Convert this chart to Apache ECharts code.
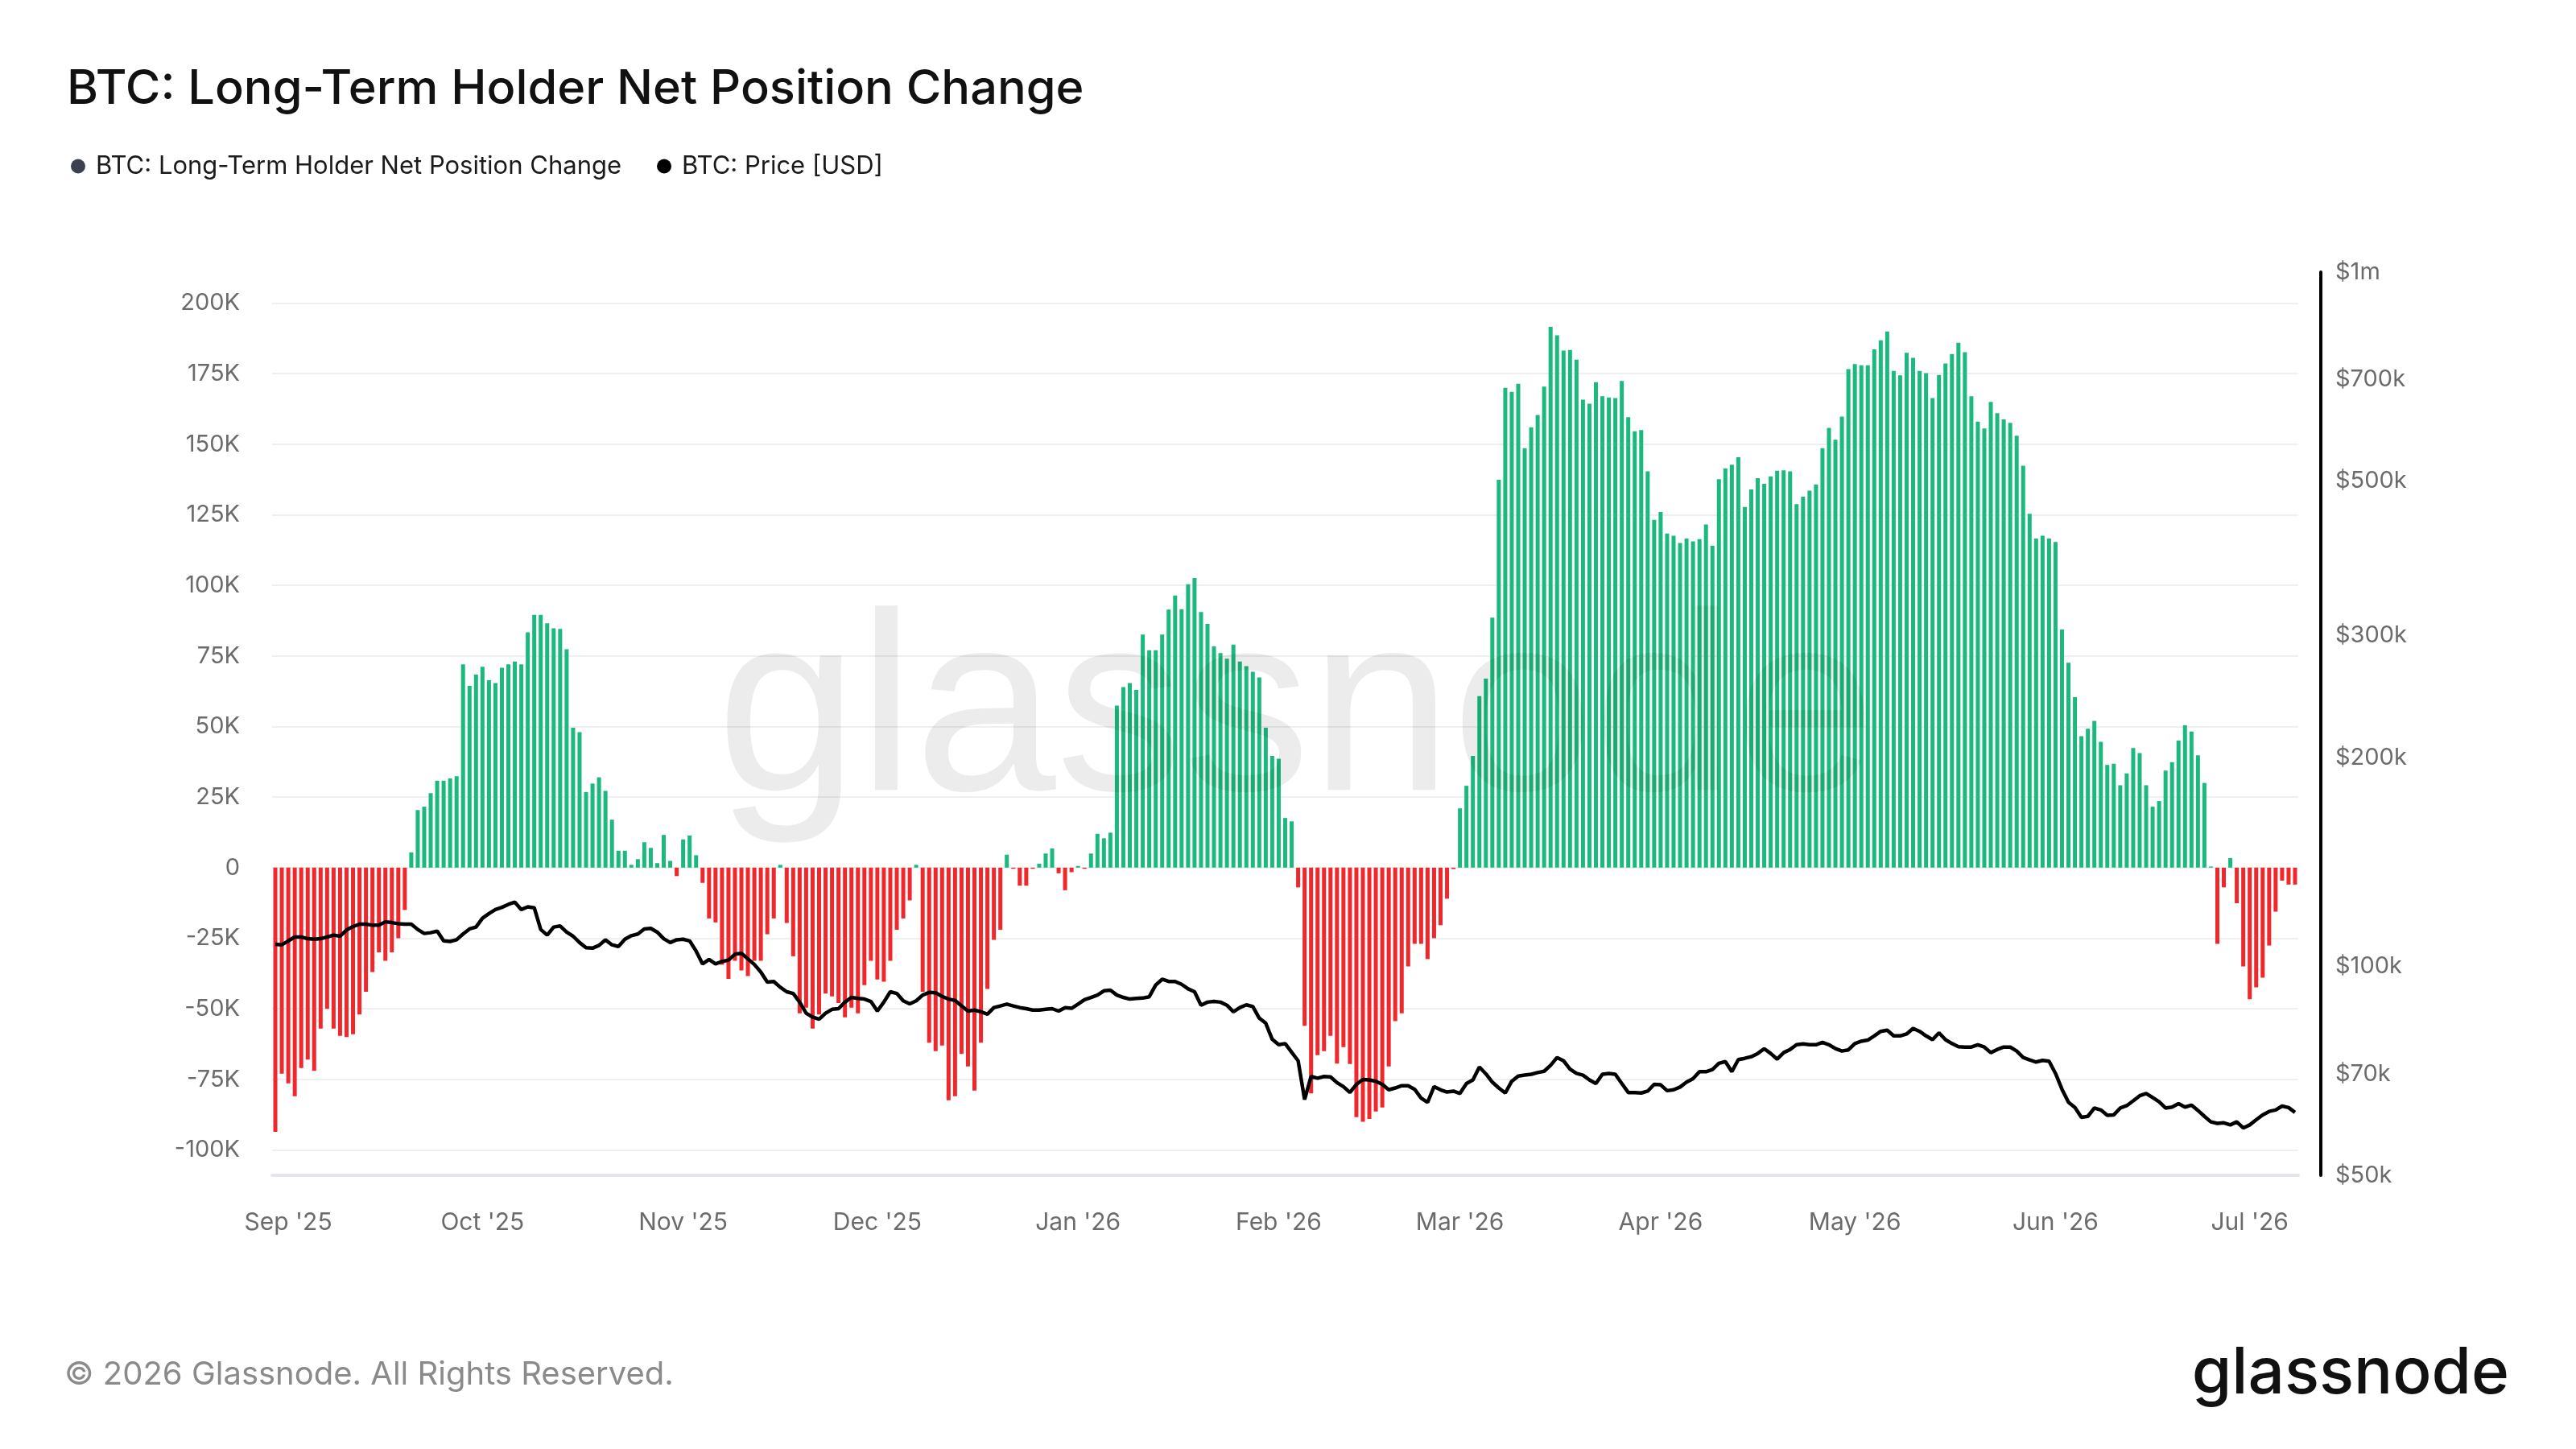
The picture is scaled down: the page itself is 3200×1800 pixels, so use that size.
<!DOCTYPE html>
<html>
<head>
<meta charset="utf-8">
<title>BTC: Long-Term Holder Net Position Change</title>
<script src="https://cdn.jsdelivr.net/npm/echarts@6/dist/echarts.min.js"></script>
<style>
  html, body { margin: 0; padding: 0; background: #fff; }
  #chart { width: 3200px; height: 1800px; }
</style>
</head>
<body>
<div id="chart"></div>
<script>
// daily values, first day 2025-08-30
const startDate = Date.UTC(2025, 7, 30);

// LTH net position change, in thousands of BTC
const netPositionK = [
  -93.6, -73, -76.4, -81, -71, -68, -72, -57, -50, -57, -59.6, -60, -59, -52, -44, -37, -30, -33, -30, -25, -15,
  5.4, 20.4, 21.6, 26.4, 30.8, 30.8, 31.6, 32.4, 72, 64.4, 68.4, 71.2, 66.4, 65.4, 70.8, 72, 73, 72, 83.4, 89.6,
  89.6, 86.6, 84.8, 84.6, 77.4, 49.6, 48, 26.8, 29.8, 32, 27.2, 17,
  6, 6, 1, 3, 9, 7, 1.6, 11.6, 2.4, -3, 10, 11.4, 4.4, -5.4, -18, -19.4, -34.4, -39.4, -33, -36.4, -38.4, -33,
  -33, -23.6, -18, 1, -19.6, -31.4, -51.6, -49.6, -57, -52, -44.6, -45.6, -48, -53, -49.6, -51.6, -41.6, -33,
  -39.6, -40.4, -33, -22, -18, -11.6, 1, -44, -62, -65, -63, -82.4, -81,
  -66, -70.4, -79, -62, -43, -25.6, -22, 4.6, -0.4, -6.4, -6.4, -0.4, 1.4, 5, 6.8, -2, -8, -1.6, 0.6, -0.4, 5,
  12, 10.4, 12.4, 57.4, 64, 65.4, 63, 82.6, 77, 77, 82.6, 91.4, 96.4, 91.6, 100.4, 102.6, 90.6, 86.4, 78.4, 76,
  74, 79, 73, 71.4, 69.4, 67.4, 49.6, 39.6, 38.6, 17.6, 16.4,
  -7, -56, -80, -66.4, -65, -59.6, -69.4, -63.6, -69.6, -88.4, -90, -89, -86.4, -85, -70.4, -54.4, -51.6, -35,
  -27, -27, -32.4, -25, -20.4, -11, -0.5, 21, 29, 39.6, 60.8, 67, 88.6, 137.4, 170, 168.6, 171.4, 148.6, 156,
  160.4, 170.4, 191.6, 188.6, 183.2, 183.4, 180, 165.8, 164.4, 172, 167, 166.6, 166.4, 172.4, 159.6, 154.6,
  155, 140.4, 123.2, 126, 118.4, 117.6, 115, 116.6, 115.6, 116.4, 121.6, 114, 137.6, 141.4, 142.8, 145.4, 127.8,
  134, 138, 136, 138.6, 140.6, 140.8, 140.4, 128.8, 131.4, 133.6, 135.8, 148.6, 155.8, 151.6, 159.8, 176.6, 178.4,
  178, 178, 183.6, 186.8, 190, 176, 174.4, 182.4, 180.6, 176, 175.2, 166.4, 174.6, 178.6, 182, 186, 182.6, 167, 158,
  155.6, 165, 161, 158.8, 157.6, 153, 142.4, 125.4, 116.6, 117.6, 116.6, 115.4, 84.4, 72.6, 60.4, 46.6, 49.2, 52,
  44.6, 36.4, 36.8, 29.2, 33.4, 42.4, 40.6, 29.2, 21.6, 23.6, 34.4, 37.4, 45, 50.4, 48.2, 39.8, 30, 0.4, -27, -7,
  3.4, -12.6, -35, -46.6, -42.4, -39, -27.6, -15.6, -4.6, -6, -6
];

// BTC price, in thousands of USD
const btcPriceK = [
  107.6, 107.4, 108.8, 110.2, 110.2, 109.6, 109.4, 109.6, 110.2, 110.9, 110.5, 112.8, 114.1, 115.0, 115.0, 114.6,
  114.6, 115.9, 115.6, 115.2, 115.0, 115.0, 113.0, 111.5, 111.8, 112.4, 108.8, 108.6, 109.2, 111.3, 113.2, 113.9,
  117.3, 119.1, 120.7, 121.6, 122.8, 123.7, 120.7, 121.8, 121.4, 113.0, 110.9, 113.9, 114.3, 112.0, 110.5, 108.2,
  106.4, 106.2, 107.2, 109.2, 107.4,
  106.8, 109.4, 110.7, 111.3, 113.2, 113.4, 112.0, 109.6, 108.2, 109.2, 109.4, 108.8, 105.2, 100.8, 102.3, 100.8,
  101.6, 102.1, 104.1, 104.4, 102.5, 100.6, 98.1, 94.9, 95.1, 93.3, 91.9, 91.4, 88.8, 85.6, 84.5, 83.9, 85.6, 86.7,
  86.9, 88.8, 90.2, 89.9, 89.7, 89.0, 86.2, 88.8, 91.9, 91.4, 89.2, 88.3, 89.2, 90.9, 91.7, 91.6, 90.5, 89.7, 89.3,
  87.7, 86.2, 86.5, 86.0, 85.3, 87.2, 87.7, 88.2, 87.7, 87.2, 86.9, 86.5, 86.5, 86.7, 86.9, 86.2, 87.2, 87.0, 88.2,
  89.5, 90.2, 90.9, 92.2, 92.4, 90.9, 90.2, 89.7, 89.9, 90.0, 90.4, 94.0, 95.8, 95.1, 95.1, 94.2, 92.8, 91.9, 87.9,
  88.8, 89.0, 88.8, 87.9, 86.0, 87.2, 88.0, 87.5, 84.2, 82.8, 78.5, 77.1, 77.4, 75.2, 73.1,
  64.3, 69.4, 69.0, 69.4, 69.3, 68.0, 67.1, 65.8, 67.6, 68.7, 68.6, 68.3, 67.6, 66.4, 66.8, 67.3, 67.3, 66.5, 64.6,
  63.7, 67.1, 66.4, 65.9, 66.1, 65.6, 67.8, 68.6, 71.6, 70.0, 68.1, 66.8, 65.7, 68.3, 69.5, 69.7, 69.9, 70.3, 70.6,
  72.0, 73.9, 73.1, 71.1, 70.1, 69.7, 68.6, 67.8, 69.9, 70.1, 69.9, 67.8, 65.8, 65.8,
  65.7, 66.1, 67.6, 67.5, 66.2, 66.4, 67.0, 68.1, 68.9, 70.5, 70.5, 71.0, 72.5, 72.9, 70.5, 73.4, 73.7, 74.1, 74.9,
  76.1, 74.9, 73.5, 75.1, 75.9, 77.1, 77.3, 77.1, 77.1, 77.7, 77.1, 76.1, 75.5, 75.8, 77.4, 78.0, 78.3, 79.4, 80.6,
  80.9, 79.4, 79.4, 79.9, 81.4, 80.6, 79.4, 78.4, 80.2, 78.4, 77.4, 76.6, 76.5, 76.5, 77.1,
  76.5, 75.1, 75.9, 76.5, 76.5, 75.5, 73.9, 73.3, 72.8, 73.2, 73.0, 70.1, 66.5, 63.7, 62.6, 60.6, 60.8, 62.5, 62.1,
  61.0, 61.1, 62.5, 63.0, 64.0, 65.1, 65.6, 64.7, 63.8, 62.5, 62.7, 63.4, 62.7, 63.1, 62.0, 60.8, 59.7, 59.4, 59.5,
  59.1, 59.7, 58.5, 59.1, 60.1, 61.1, 61.8, 62.1, 62.9, 62.6, 61.6
];

const leftTicks = [-100000, -75000, -50000, -25000, 0, 25000, 50000, 75000, 100000, 125000, 150000, 175000, 200000];
const priceTicks = [50000, 70000, 100000, 200000, 300000, 500000, 700000, 1000000];
const monthNames = ['Jan', 'Feb', 'Mar', 'Apr', 'May', 'Jun', 'Jul', 'Aug', 'Sep', 'Oct', 'Nov', 'Dec'];

const GREEN = '#1cb97e';
const RED = '#f0282c';
const FONT = 'Inter, "Noto Sans", sans-serif';

const dates = [];
for (let i = 0; i < netPositionK.length; i++) {
  dates.push(new Date(startDate + i * 86400000).toISOString().slice(0, 10));
}

function isMonthStart(index, value) {
  return value.slice(8) === '01';
}

function monthLabel(value) {
  return monthNames[Number(value.slice(5, 7)) - 1] + " '" + value.slice(2, 4);
}

const chart = echarts.init(document.getElementById('chart'));

const option = {
  backgroundColor: '#fff',
  animation: false,
  title: {
    text: 'BTC: Long-Term Holder Net Position Change',
    left: 78,
    top: 76,
    textStyle: { fontFamily: FONT, fontSize: 59.5, fontWeight: 500, color: '#111' }
  },
  legend: {
    left: 83,
    top: 186,
    icon: 'circle',
    itemWidth: 18,
    itemHeight: 18,
    itemGap: 44,
    textStyle: { fontFamily: FONT, fontSize: 31, color: '#1a1a1a', padding: [0, 0, 0, 8] },
    data: [
      { name: 'BTC: Long-Term Holder Net Position Change', itemStyle: { color: '#3d404e' } },
      { name: 'BTC: Price [USD]', itemStyle: { color: '#000' } }
    ]
  },
  grid: { left: 338, right: 345, top: 338, bottom: 340, containLabel: false },
  xAxis: {
    type: 'category',
    data: dates,
    boundaryGap: true,
    axisLine: { onZero: false, lineStyle: { color: '#e4e6ec', width: 4 } },
    axisTick: { alignWithLabel: true, interval: isMonthStart, length: 24, lineStyle: { color: '#e6e6e6', width: 2 } },
    axisLabel: {
      interval: isMonthStart,
      formatter: monthLabel,
      margin: 44,
      color: '#6b6b6b',
      fontFamily: FONT,
      fontSize: 30
    },
    splitLine: { show: false }
  },
  yAxis: [
    {
      type: 'value',
      min: -109000,
      max: 211000,
      position: 'left',
      axisLine: { show: false },
      axisTick: { show: false, customValues: leftTicks },
      axisLabel: {
        customValues: leftTicks,
        formatter: v => (v === 0 ? '0' : v / 1000 + 'K'),
        margin: 40,
        color: '#6b6b6b',
        fontFamily: FONT,
        fontSize: 29
      },
      splitLine: { show: true, lineStyle: { color: '#efeff2', width: 2 } }
    },
    {
      type: 'log',
      logBase: 10,
      min: 50000,
      max: 1000000,
      position: 'right',
      offset: 28,
      axisLine: { show: true, lineStyle: { color: '#000', width: 4 } },
      axisTick: { show: false, customValues: priceTicks },
      axisLabel: {
        customValues: priceTicks,
        formatter: v => (v >= 1000000 ? '$' + v / 1000000 + 'm' : '$' + Math.round(v / 1000) + 'k'),
        margin: 18,
        color: '#6b6b6b',
        fontFamily: FONT,
        fontSize: 29
      },
      splitLine: { show: false }
    }
  ],
  series: [
    {
      name: 'BTC: Long-Term Holder Net Position Change',
      type: 'bar',
      yAxisIndex: 0,
      barWidth: 5,
      data: netPositionK.map(v => v * 1000),
      itemStyle: {
        color: p => (p.value >= 0 ? GREEN : RED)
      },
      z: 2
    },
    {
      name: 'BTC: Price [USD]',
      type: 'line',
      yAxisIndex: 1,
      data: btcPriceK.map(v => v * 1000),
      symbol: 'none',
      lineStyle: { color: '#000', width: 4.5 },
      itemStyle: { color: '#000' },
      z: 3
    }
  ],
  graphic: [
    {
      type: 'text',
      left: 890,
      top: 736,
      z: 100,
      silent: true,
      style: {
        text: 'glassnode',
        font: '316px "Liberation Sans", Arial, sans-serif',
        fill: 'rgba(0,0,0,0.075)'
      }
    },
    {
      type: 'text',
      left: 80,
      top: 1688,
      style: {
        text: '© 2026 Glassnode. All Rights Reserved.',
        font: '40px ' + FONT,
        fill: '#8a8a8a'
      }
    },
    {
      type: 'text',
      right: 83,
      top: 1667,
      style: {
        text: 'glassnode',
        font: '500 80px ' + FONT,
        fill: '#111'
      }
    }
  ]
};

chart.setOption(option);
</script>
</body>
</html>
